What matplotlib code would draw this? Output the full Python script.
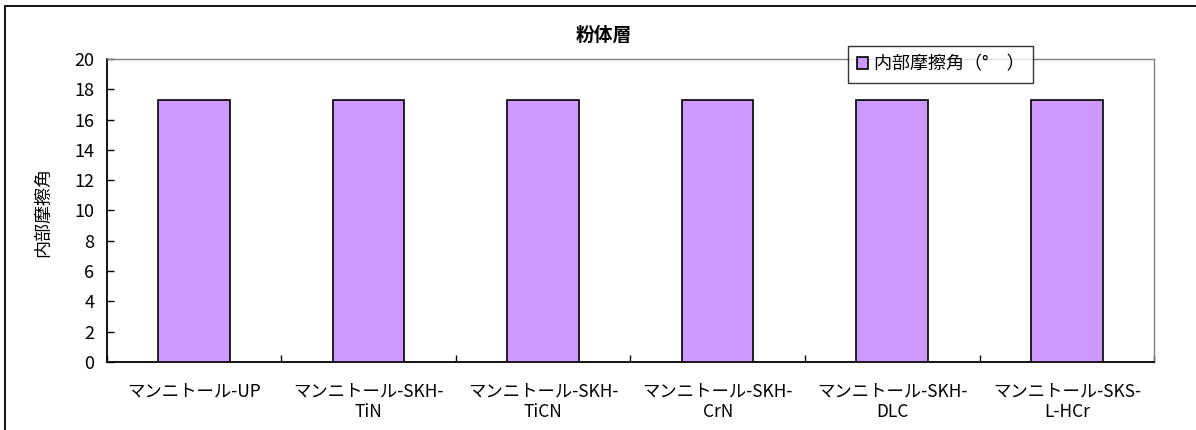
import numpy as np
import matplotlib.pyplot as plt
from matplotlib.patches import Rectangle

plt.rcParams['font.family'] = ['Noto Sans CJK JP', 'DejaVu Sans']

# data
categories = ['マンニトール-UP', 'マンニトール-SKH-\nTiN', 'マンニトール-SKH-\nTiCN',
              'マンニトール-SKH-\nCrN', 'マンニトール-SKH-\nDLC', 'マンニトール-SKS-\nL-HCr']
friction_angle = [17.3, 17.3, 17.3, 17.3, 17.3, 17.3]
yticks = [0, 2, 4, 6, 8, 10, 12, 14, 16, 18, 20]

fig = plt.figure(figsize=(11.96, 4.30), dpi=100)
ax = fig.add_axes([0.0892, 0.158, 0.8758, 0.705])

x = np.arange(len(categories))
ax.bar(x, friction_angle, width=0.41, color='#CC99FF', edgecolor='black',
       linewidth=1.2, label='内部摩擦角（°　）', zorder=3)

ax.set_xlim(-0.5, len(categories) - 0.5)
ax.set_ylim(0, 20)
ax.set_yticks(yticks)
ax.set_yticklabels([str(v) for v in yticks], fontsize=13)

# category boundary ticks on x axis, labels centred under bars
ax.set_xticks(np.arange(len(categories) + 1) - 0.5)
ax.set_xticklabels([])
ax.set_xticks(x, minor=True)
ax.set_xticklabels(categories, minor=True, fontsize=12.5, linespacing=1.15)
ax.tick_params(axis='x', which='minor', length=0, pad=15)
ax.tick_params(axis='x', which='major', direction='in', length=5, width=1)
ax.tick_params(axis='y', direction='in', length=5, width=1, pad=9)

for s in ['left', 'bottom']:
    ax.spines[s].set_linewidth(1.3)
    ax.spines[s].set_color('black')
for s in ['top', 'right']:
    ax.spines[s].set_linewidth(1.0)
    ax.spines[s].set_color('#808080')

ax.set_ylabel('内部摩擦角', fontsize=13)
ax.yaxis.set_label_coords(-0.052, 0.495)
fig.text(0.505, 0.918, '粉体層', fontsize=13.5, fontweight='bold', ha='center', va='center')

leg = ax.legend(loc='upper left', bbox_to_anchor=(0.708, 1.041), frameon=True,
                fancybox=False, edgecolor='black', fontsize=13,
                handlelength=0.6, handleheight=0.6, handletextpad=0.3,
                borderpad=0.5, borderaxespad=0)
leg.get_frame().set_linewidth(1.0)

# outer chart frame
fig.patches.append(Rectangle((0.0042, -0.02), 1.1, 1.006, transform=fig.transFigure,
                             fill=False, edgecolor='black', linewidth=1.3))

fig.savefig('out.png', dpi=100)
